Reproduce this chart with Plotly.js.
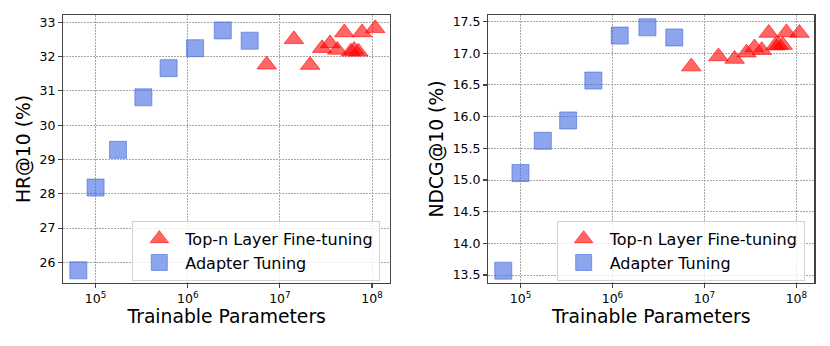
<!DOCTYPE html>
<html>
<head>
<meta charset="utf-8">
<script src="https://cdn.plot.ly/plotly-3.0.1.min.js"></script>
<style>html,body{margin:0;padding:0;background:#fff;}#chart{width:830px;height:346px;}</style>
</head>
<body>
<div id="chart"></div>
<script>
// Data
const topnParams = [7.2e6, 1.42e7, 2.13e7, 2.87e7, 3.5e7, 4.2e7, 5.0e7, 5.9e7, 6.4e7, 7.1e7, 7.8e7, 1.08e8];
const topnHR     = [31.76, 32.50, 31.75, 32.24, 32.38, 32.19, 32.70, 32.14, 32.19, 32.14, 32.70, 32.82];
const topnNDCG   = [16.79, 16.95, 16.91, 17.01, 17.09, 17.05, 17.32, 17.12, 17.13, 17.13, 17.33, 17.32];

const adapterParams = [6.5e4, 1.0e5, 1.75e5, 3.3e5, 6.2e5, 1.2e6, 2.4e6, 4.7e6];
const adapterHR     = [25.77, 28.18, 29.28, 30.81, 31.66, 32.24, 32.76, 32.46];
const adapterNDCG   = [13.57, 15.11, 15.62, 15.94, 16.57, 17.28, 17.41, 17.25];

const seriesNames = ['Top-n Layer Fine-tuning', 'Adapter Tuning'];
const xTickVals = [1e5, 1e6, 1e7, 1e8];
const xTickText = ['10<sup>5</sup>', '10<sup>6</sup>', '10<sup>7</sup>', '10<sup>8</sup>'];

const FONT = 'DejaVu Sans, sans-serif';
const red = 'rgba(255,0,0,0.6)';
const blue = 'rgba(65,105,225,0.6)';

function tri(x, y, xa, ya, leg) {
  return {x: x, y: y, xaxis: xa, yaxis: ya, type: 'scatter', mode: 'markers', name: seriesNames[0], legend: leg,
    marker: {symbol: 'triangle-up', size: 17, color: red, line: {color: red, width: 1}}};
}
function sq(x, y, xa, ya, leg) {
  return {x: x, y: y, xaxis: xa, yaxis: ya, type: 'scatter', mode: 'markers', name: seriesNames[1], legend: leg,
    marker: {symbol: 'square', size: 17, color: blue, line: {color: blue, width: 1}}};
}

const data = [
  tri(topnParams, topnHR, 'x', 'y', 'legend'),
  sq(adapterParams, adapterHR, 'x', 'y', 'legend'),
  tri(topnParams, topnNDCG, 'x2', 'y2', 'legend2'),
  sq(adapterParams, adapterNDCG, 'x2', 'y2', 'legend2')
];

const axCommon = {
  showline: true, mirror: true, linecolor: '#444', linewidth: 1.3,
  ticks: 'outside', ticklen: 4, tickwidth: 1.2, tickcolor: '#444',
  showgrid: true, gridcolor: '#a8a8a8', griddash: '1.5px,1.5px', gridwidth: 1,
  zeroline: false, tickfont: {family: FONT, size: 12.5, color: '#000'}
};

function xax(domain, anchor) {
  return Object.assign({}, axCommon, {
    type: 'log', domain: domain, anchor: anchor, range: [4.65, 8.195],
    tickvals: xTickVals, ticktext: xTickText,
    title: {text: 'Trainable Parameters', font: {family: FONT, size: 18.75, color: '#000'}, standoff: 4}
  });
}
function yax(domain, anchor, range, dtick, fmt, title) {
  return Object.assign({}, axCommon, {
    domain: domain, anchor: anchor, range: range, dtick: dtick, tickformat: fmt,
    title: {text: title, font: {family: FONT, size: 18.75, color: '#000'}, standoff: 4}
  });
}

const legCommon = {
  xanchor: 'left', yanchor: 'top', bgcolor: 'rgba(255,255,255,0.8)', bordercolor: '#d0d0d0', borderwidth: 1,
  font: {family: FONT, size: 16, color: '#000'}, itemsizing: 'trace', itemwidth: 42
};

const layout = {
  width: 830, height: 346,
  margin: {l: 0, r: 0, t: 0, b: 0},
  paper_bgcolor: '#fff', plot_bgcolor: '#fff',
  font: {family: FONT},
  xaxis: xax([0.0763, 0.4699], 'y'),
  yaxis: yax([0.183, 0.9558], 'x', [25.41, 33.2], 1, 'd', 'HR@10 (%)'),
  xaxis2: xax([0.5883, 0.9811], 'y2'),
  yaxis2: yax([0.183, 0.9558], 'x2', [13.38, 17.6], 0.5, '.1f', 'NDCG@10 (%)'),
  legend: Object.assign({}, legCommon, {x: 0.1594, y: 0.3620}),
  legend2: Object.assign({}, legCommon, {x: 0.6707, y: 0.3620}),
  showlegend: true
};

Plotly.newPlot('chart', data, layout, {staticPlot: true, displayModeBar: false});
</script>
</body>
</html>
